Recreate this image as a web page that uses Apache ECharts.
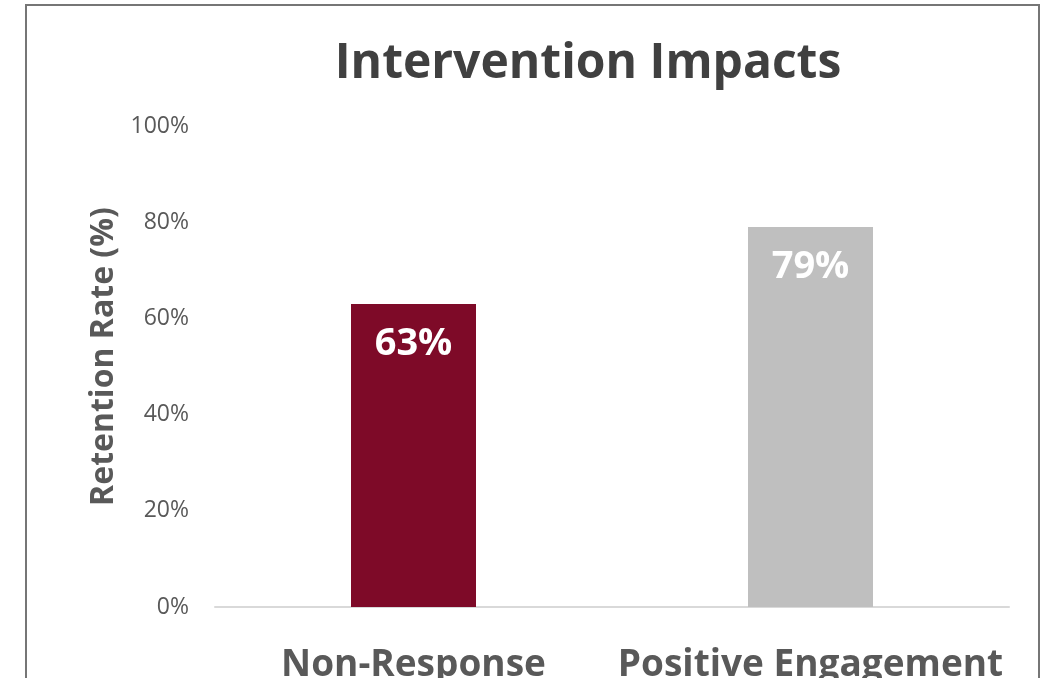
<!DOCTYPE html>
<html>
<head>
<meta charset="utf-8">
<title>Intervention Impacts</title>
<script src="https://cdn.jsdelivr.net/npm/echarts@6/dist/echarts.min.js"></script>
<style>
  html, body { margin: 0; padding: 0; background: #ffffff; }
  #chart { width: 1046px; height: 678px; }
</style>
</head>
<body>
<div id="chart"></div>
<script>
// Retention rate by intervention outcome
const categories = ['Non-Response', 'Positive Engagement'];
const retention = [63, 79];
const barColors = ['#7E0A28', '#BFBFBF'];
const yTicks = [0, 20, 40, 60, 80, 100];

const FONT = '"Open Sans", "Noto Sans", sans-serif';

const chart = echarts.init(document.getElementById('chart'), null, { renderer: 'canvas' });

chart.setOption({
  backgroundColor: '#ffffff',
  animation: false,
  title: {
    text: 'Intervention Impacts',
    left: 583,
    textAlign: 'center',
    top: 35,
    textStyle: { fontFamily: FONT, fontWeight: 'bold', fontSize: 48, color: '#404040' }
  },
  graphic: [{
    type: 'rect',
    shape: { x: 26, y: 5, width: 1013, height: 720 },
    style: { fill: 'none', stroke: '#767676', lineWidth: 2 },
    silent: true
  }],
  grid: { left: 215, right: 37, top: 126, bottom: 71, outerBoundsMode: 'none' },
  xAxis: {
    type: 'category',
    data: categories,
    axisLine: { show: true, lineStyle: { color: '#D9D9D9', width: 2 } },
    axisTick: { show: false },
    axisLabel: {
      interval: 0,
      hideOverlap: false,
      margin: 40,
      fontFamily: FONT, fontWeight: 'bold', fontSize: 37, color: '#595959'
    }
  },
  yAxis: {
    type: 'value',
    min: yTicks[0],
    max: yTicks[yTicks.length - 1],
    interval: yTicks[1] - yTicks[0],
    name: 'Retention Rate (%)',
    nameLocation: 'middle',
    nameRotate: 90,
    nameGap: 95,
    nameTextStyle: {
      fontFamily: FONT, fontWeight: 'bold', fontSize: 32, color: '#595959',
      padding: [0, 0, 0, 20]
    },
    splitLine: { show: false },
    axisLine: { show: false },
    axisTick: { show: false },
    axisLabel: {
      margin: 26,
      formatter: v => v + '%',
      fontFamily: FONT, fontSize: 23, color: '#595959'
    }
  },
  series: [{
    type: 'bar',
    barWidth: 125,
    data: retention.map((v, i) => ({ value: v, itemStyle: { color: barColors[i] } })),
    label: {
      show: true,
      position: 'insideTop',
      distance: 21,
      formatter: p => p.value + '%',
      fontFamily: FONT, fontWeight: 'bold', fontSize: 38, color: '#ffffff'
    }
  }]
});
</script>
</body>
</html>
